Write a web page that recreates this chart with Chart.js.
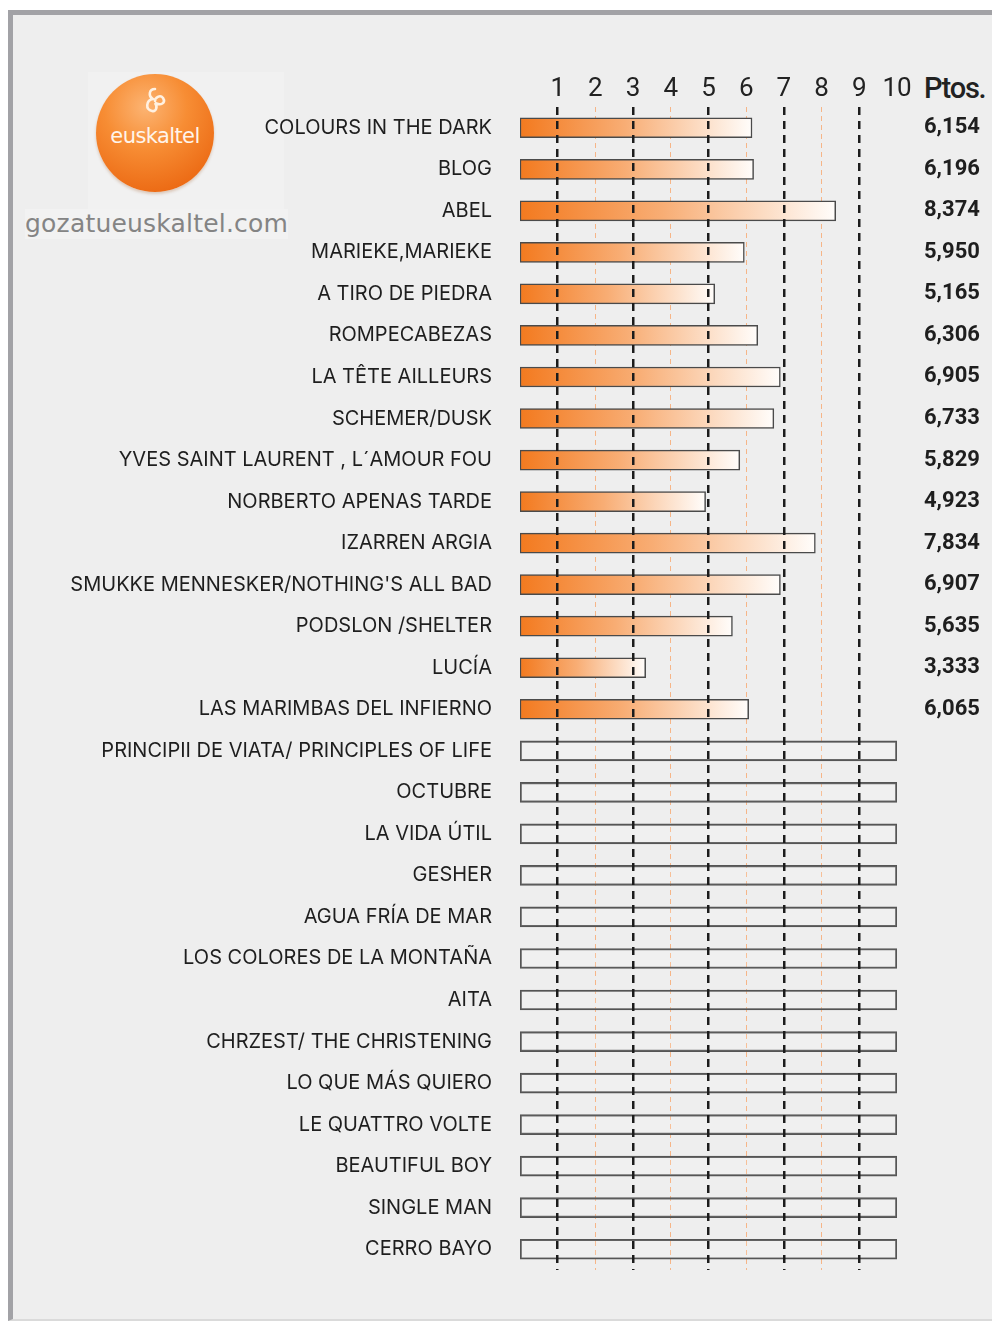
<!DOCTYPE html>
<html>
<head>
<meta charset="utf-8">
<script src="https://cdn.jsdelivr.net/npm/chart.js@4.4.0/dist/chart.umd.min.js"></script>
<style>
html, body { margin: 0; padding: 0; background: #fff; }
body { width: 992px; height: 1322px; position: relative; overflow: hidden; }
#panel {
    position: absolute; left: 8px; top: 10px; width: 984px; height: 1311px;
    background: #eeeeee; box-sizing: border-box;
    border-left: 5px solid #a2a2a6; border-top: 5px solid #a2a2a6; border-bottom: 2px solid #dadada;
}
#logoBox { position: absolute; left: 88px; top: 72px; width: 196px; height: 142px; background: #f1f1f1; }
#logo {
    position: absolute; left: 96px; top: 74px; width: 118px; height: 118px; border-radius: 50%;
    background: radial-gradient(circle at 42% 28%, #fcb473 0%, #f78d34 38%, #ec6a14 80%, #e05f10 100%);
    box-shadow: 0 2px 3px rgba(150, 70, 10, 0.25);
}
#logo span {
    position: absolute; left: 0; right: 0; top: 50px; text-align: center;
    font-family: 'DejaVu Sans', sans-serif; font-size: 21px; color: #fff4ea; letter-spacing: -0.6px;
}
#logo svg { position: absolute; left: 44px; top: 12px; }
#site {
    position: absolute; left: 25px; top: 209px; font-family: 'DejaVu Sans', sans-serif;
    font-size: 25px; color: #848484; letter-spacing: 0.2px; background: #f2f2f2; line-height: 30px;
}
#ptos {
    position: absolute; left: 924px; top: 71px; font-family: Roboto, sans-serif; font-weight: 500;
    font-size: 29px; color: #222; letter-spacing: -1.2px;
}
#chart { position: absolute; left: 0; top: 0; }
</style>
</head>
<body>
<div id="panel"></div>
<div id="logoBox"></div>
<div id="logo">
    <svg width="30" height="34" viewBox="0 0 30 34">
        <path d="M15 3 C9 3 8 10 13 13 C6 14 5 24 12 25 C16 26 18 21 15 17 C21 20 26 17 23 12 C20 8 15 12 15 15"
              fill="none" stroke="#fff1e2" stroke-width="2.6" stroke-linecap="round"/>
    </svg>
    <span>euskaltel</span>
</div>
<div id="site">gozatueuskaltel.com</div>
<div id="ptos">Ptos.</div>
<canvas id="chart" width="992" height="1322"></canvas>

<script>
// Film titles, top to bottom
const films = [
    'COLOURS IN THE DARK', 'BLOG', 'ABEL', 'MARIEKE,MARIEKE', 'A TIRO DE PIEDRA',
    'ROMPECABEZAS', 'LA TÊTE AILLEURS', 'SCHEMER/DUSK', 'YVES SAINT LAURENT , L´AMOUR FOU',
    'NORBERTO APENAS TARDE', 'IZARREN ARGIA', "SMUKKE MENNESKER/NOTHING'S ALL BAD",
    'PODSLON /SHELTER', 'LUCÍA', 'LAS MARIMBAS DEL INFIERNO',
    'PRINCIPII DE VIATA/ PRINCIPLES OF LIFE', 'OCTUBRE', 'LA VIDA ÚTIL', 'GESHER',
    'AGUA FRÍA DE MAR', 'LOS COLORES DE LA MONTAÑA', 'AITA', 'CHRZEST/ THE CHRISTENING',
    'LO QUE MÁS QUIERO', 'LE QUATTRO VOLTE', 'BEAUTIFUL BOY', 'SINGLE MAN', 'CERRO BAYO'
];

// Audience points (null = not voted yet)
const scores = [
    6.154, 6.196, 8.374, 5.950, 5.165, 6.306, 6.905, 6.733, 5.829, 4.923,
    7.834, 6.907, 5.635, 3.333, 6.065,
    null, null, null, null, null, null, null, null, null, null, null, null, null
];

// Films still pending: empty frame across the whole scale
const scaleMax = 10;
const pending = scores.map(v => v === null ? scaleMax : null);

// Labels shown in the Ptos. column
const scoreLabels = scores.map(v => v === null ? '' : v.toFixed(3).replace('.', ','));

const xTicks = [1, 2, 3, 4, 5, 6, 7, 8, 9, 10];

// Orange to white gradient running along each bar
function barFill(context) {
    const chart = context.chart;
    if (!chart.chartArea || context.raw == null) return 'rgba(0,0,0,0)';
    const xs = chart.scales.x;
    const x0 = xs.getPixelForValue(0);
    const x1 = xs.getPixelForValue(context.raw);
    const g = chart.ctx.createLinearGradient(x0, 0, x1, 0);
    g.addColorStop(0, '#f37a1f');
    g.addColorStop(0.45, '#f8ad74');
    g.addColorStop(1, '#fffdfb');
    return g;
}

const ctx = document.getElementById('chart').getContext('2d');

new Chart(ctx, {
    type: 'bar',
    data: {
        labels: films,
        datasets: [{
            label: 'Ptos.',
            data: scores,
            backgroundColor: barFill,
            borderColor: '#4a4a4a',
            borderWidth: 1.5,
            borderSkipped: false,
            barThickness: 20,
            grouped: false
        }, {
            label: 'Pending',
            data: pending,
            backgroundColor: 'rgba(255,255,255,0.15)',
            borderColor: '#555555',
            borderWidth: 1.5,
            borderSkipped: false,
            barThickness: 20,
            grouped: false
        }]
    },
    options: {
        indexAxis: 'y',
        responsive: false,
        animation: false,
        layout: { padding: { top: 0, left: 0, right: 0, bottom: 52 } },
        plugins: {
            legend: { display: false },
            tooltip: { enabled: false }
        },
        scales: {
            x: {
                type: 'linear',
                position: 'top',
                min: 0,
                max: scaleMax,
                afterFit: s => { s.height = 107; },
                afterBuildTicks: s => { s.ticks = xTicks.map(v => ({ value: v })); },
                ticks: {
                    padding: 2,
                    maxRotation: 0,
                    color: '#222',
                    font: { family: 'Roboto, sans-serif', size: 26 }
                },
                grid: {
                    z: 1,
                    drawTicks: false,
                    lineWidth: 2.5,
                    color: c => (c.tick && c.tick.value % 2 === 1) ? '#1c1c1c' : 'rgba(0,0,0,0)'
                },
                border: { display: false, dash: [8, 6] }
            },
            x2: {
                type: 'linear',
                position: 'top',
                min: 0,
                max: scaleMax,
                afterFit: s => { s.height = 0; },
                afterBuildTicks: s => { s.ticks = xTicks.map(v => ({ value: v })); },
                ticks: { display: false },
                grid: {
                    drawTicks: false,
                    lineWidth: 1,
                    color: c => (c.tick && c.tick.value % 2 === 0 && c.tick.value < 10) ? '#f6b587' : 'rgba(0,0,0,0)'
                },
                border: { display: false, dash: [5, 4] }
            },
            y: {
                type: 'category',
                position: 'left',
                afterFit: s => { s.width = 520; },
                ticks: {
                    padding: 28,
                    color: '#1e1e1e',
                    font: { family: 'Inter, sans-serif', size: 20 }
                },
                grid: { display: false, drawTicks: false },
                border: { display: false }
            },
            y2: {
                type: 'category',
                position: 'right',
                labels: scoreLabels,
                offset: true,
                afterFit: s => { s.width = 95; },
                ticks: {
                    padding: 27,
                    color: '#1e1e1e',
                    font: { family: 'Roboto, sans-serif', size: 22, weight: 'bold' }
                },
                grid: { display: false, drawTicks: false },
                border: { display: false }
            }
        }
    }
});
</script>
</body>
</html>
